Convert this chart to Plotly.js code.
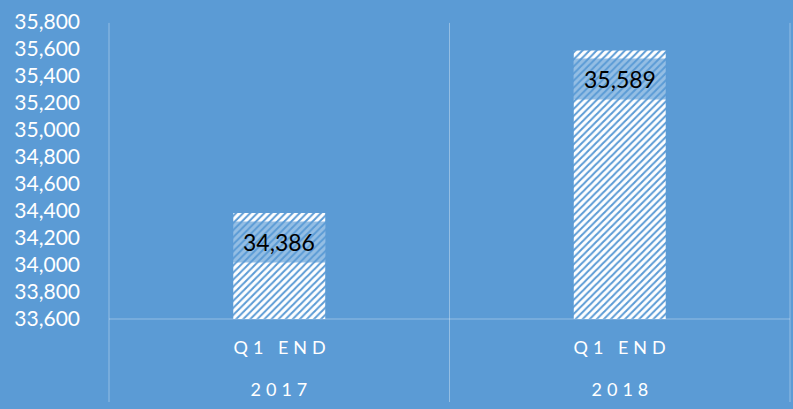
<!DOCTYPE html>
<html>
<head>
<meta charset="utf-8">
<script src="https://cdn.plot.ly/plotly-3.0.1.min.js"></script>
<style>
  html, body { margin: 0; padding: 0; background: #5B9BD5; }
  #chart { width: 793px; height: 409px; }
</style>
</head>
<body>
<div id="chart"></div>
<script>
// ---- data ----
const years = ["2017", "2018"];
const periods = ["Q1 END", "Q1 END"];
const values = [34386, 35589];
const yTickVals = [33600, 33800, 34000, 34200, 34400, 34600, 34800, 35000, 35200, 35400, 35600, 35800];

const BG = "#5B9BD5";
const LINE = "rgba(255,255,255,0.35)";
const FONT = "Lato, 'Open Sans', sans-serif";

const trace = {
  type: "bar",
  x: [years, periods],
  y: values,
  marker: {
    color: "#ffffff",
    line: { width: 0 },
    pattern: { shape: "/", fgcolor: BG, bgcolor: "#ffffff", size: 5, solidity: 0.4 }
  },
  hoverinfo: "skip"
};

const labelAnns = values.map((v, i) => ({
  x: i, y: v, xref: "x", yref: "y",
  yanchor: "top", xanchor: "center", yshift: -8,
  width: 92, height: 40, borderpad: 0,
  bgcolor: "rgba(91,155,213,0.65)",
  text: v.toLocaleString("en-US"),
  font: { family: FONT, size: 23, color: "#000000" },
  showarrow: false
}));

const periodAnns = periods.map((p, i) => ({
  x: i, y: (319 - 346.5) / 297, xref: "x", yref: "paper",
  xanchor: "center", yanchor: "middle",
  text: p, showarrow: false,
  font: { family: FONT, size: 18, color: "#ffffff" }
}));
const yearAnns = years.map((yr, i) => ({
  x: i, y: (319 - 388.5) / 297, xref: "x", yref: "paper",
  xanchor: "center", yanchor: "middle",
  text: yr, showarrow: false,
  font: { family: FONT, size: 18, color: "#ffffff" }
}));

const lineBottom = -(402 - 319) / 297;
const shapes = [0, 0.5, 1].map(px => ({
  type: "line", xref: "paper", yref: "paper",
  x0: px, x1: px, y0: lineBottom, y1: 0.997,
  line: { color: LINE, width: 1 }
}));
shapes.push({
  type: "line", xref: "paper", yref: "paper",
  x0: 0, x1: 1, y0: 0, y1: 0,
  line: { color: LINE, width: 1 }
});

const layout = {
  width: 793, height: 409,
  margin: { l: 109, r: 3, t: 22, b: 90 },
  paper_bgcolor: BG, plot_bgcolor: BG,
  showlegend: false,
  bargap: 0.73,
  font: { family: FONT, color: "#ffffff" },
  xaxis: {
    type: "multicategory",
    showgrid: false, zeroline: false, showline: false,
    showdividers: false, showticklabels: false,
    ticks: ""
  },
  yaxis: {
    range: [33600, 35800],
    tickvals: yTickVals,
    tickformat: ",",
    showgrid: false, zeroline: false, showline: false,
    ticks: "",
    ticklabelstandoff: 28,
    tickfont: { family: FONT, size: 21, color: "#ffffff" }
  },
  annotations: labelAnns.concat(periodAnns, yearAnns),
  shapes: shapes
};

Plotly.newPlot("chart", [trace], layout, { staticPlot: true, displayModeBar: false }).then(gd => {
  const anns = gd.querySelectorAll(".annotation");
  anns.forEach((a, idx) => {
    if (idx >= labelAnns.length) {
      const t = a.querySelector("text");
      if (t) {
        t.style.letterSpacing = "5px";
        t.setAttribute("transform", "translate(2.5,0)");
      }
    }
  });
});
</script>
</body>
</html>
